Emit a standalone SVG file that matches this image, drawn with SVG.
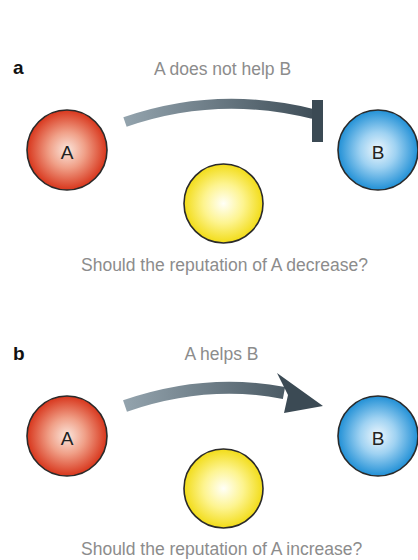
<svg xmlns="http://www.w3.org/2000/svg" width="418" height="560" viewBox="0 0 418 560">
  <style>
    .caption { font-family: "Liberation Sans", Arial, sans-serif; font-size: 17.5px; fill: #8c8c8c; }
    .panel { font-family: "Liberation Sans", Arial, sans-serif; font-size: 19px; font-weight: bold; fill: #111; }
    .node-label { font-family: "Liberation Sans", Arial, sans-serif; font-size: 19px; fill: #222; text-anchor: middle; }
    .ball { stroke: #2a2a2a; stroke-width: 1.6; }
    .shaft { fill: none; stroke-linecap: butt; }
  </style>
  <defs>
    <radialGradient id="gradRed" cx="50%" cy="50%" r="50%">
      <stop offset="0" stop-color="#fbe6dc"/>
      <stop offset="0.45" stop-color="#f0a088"/>
      <stop offset="1" stop-color="#d8361c"/>
    </radialGradient>
    <radialGradient id="gradBlue" cx="50%" cy="50%" r="50%">
      <stop offset="0" stop-color="#eef7fd"/>
      <stop offset="0.45" stop-color="#9fd2f2"/>
      <stop offset="1" stop-color="#2190d6"/>
    </radialGradient>
    <radialGradient id="gradYellow" cx="50%" cy="50%" r="50%">
      <stop offset="0" stop-color="#fffff8"/>
      <stop offset="0.5" stop-color="#fdf490"/>
      <stop offset="1" stop-color="#f2dc18"/>
    </radialGradient>
    <linearGradient id="gradArrowA" gradientUnits="userSpaceOnUse" x1="125" y1="0" x2="323" y2="0">
      <stop offset="0" stop-color="#93a3ad"/>
      <stop offset="1" stop-color="#3b4a54"/>
    </linearGradient>
    <linearGradient id="gradArrowB" gradientUnits="userSpaceOnUse" x1="125" y1="0" x2="323" y2="0">
      <stop offset="0" stop-color="#93a3ad"/>
      <stop offset="1" stop-color="#3b4a54"/>
    </linearGradient>
  </defs>

  <rect width="418" height="560" fill="#ffffff"/>

  <!-- Panel a -->
  <text class="panel" x="13" y="74">a</text>
  <text class="caption" x="222.5" y="75" text-anchor="middle">A does not help B</text>

  <g id="connectors">
    <!-- a: inhibition (blunt end) -->
    <path class="shaft" d="M125,122 Q217,90 313,114" stroke="url(#gradArrowA)" stroke-width="10"/>
    <rect x="312" y="100" width="11" height="42" fill="#3b4a54"/>
    <!-- b: help (arrowhead) -->
    <path class="shaft" d="M125,406 Q206,378 284,393" stroke="url(#gradArrowB)" stroke-width="12"/>
    <polygon points="277,373 323,406 284,413 288,395" fill="#3b4a54"/>
  </g>

  <g id="a-nodeA">
    <circle class="ball" cx="67" cy="150" r="40" fill="url(#gradRed)"/>
    <text class="node-label" x="67" y="159">A</text>
  </g>
  <g id="a-nodeB">
    <circle class="ball" cx="378" cy="150" r="40" fill="url(#gradBlue)"/>
    <text class="node-label" x="378" y="159">B</text>
  </g>
  <g id="a-observer">
    <circle class="ball" cx="223.5" cy="203.5" r="39.5" fill="url(#gradYellow)"/>
  </g>
  <text class="caption" x="81" y="271">Should the reputation of A decrease?</text>

  <!-- Panel b -->
  <text class="panel" x="13" y="360">b</text>
  <text class="caption" x="221.5" y="360" text-anchor="middle">A helps B</text>

  <g id="b-nodeA">
    <circle class="ball" cx="67" cy="436" r="40" fill="url(#gradRed)"/>
    <text class="node-label" x="67" y="445">A</text>
  </g>
  <g id="b-nodeB">
    <circle class="ball" cx="378" cy="436" r="40" fill="url(#gradBlue)"/>
    <text class="node-label" x="378" y="445">B</text>
  </g>
  <g id="b-observer">
    <circle class="ball" cx="223.5" cy="488.5" r="39.5" fill="url(#gradYellow)"/>
  </g>
  <text class="caption" x="81" y="555">Should the reputation of A increase?</text>
</svg>
